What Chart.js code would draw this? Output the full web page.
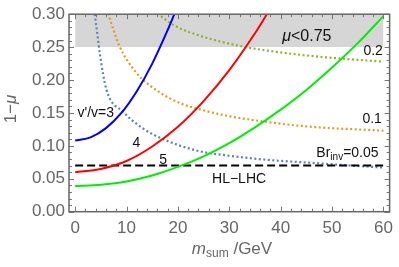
<!DOCTYPE html>
<html>
<head>
<meta charset="utf-8">
<script src="https://cdn.jsdelivr.net/npm/chart.js@4/dist/chart.umd.min.js"></script>
<style>
    html, body { margin: 0; padding: 0; background: #fff; }
    #wrap { width: 399px; height: 267px; position: relative; }
</style>
</head>
<body>
<div id="wrap"><canvas id="chart"></canvas></div>
<script>
// curves: x = m_sum (GeV), y = 1 - mu
const ratio3X = [0, 3, 6, 9, 12, 15, 18, 19.3];
const ratio3Y = [0.108, 0.113, 0.127, 0.150, 0.183, 0.225, 0.276, 0.300];

const ratio4X = [0, 5, 10, 15, 20, 25, 30, 35, 37.4];
const ratio4Y = [0.060, 0.065, 0.077, 0.099, 0.129, 0.168, 0.215, 0.271, 0.301];

const ratio5X = [0, 5, 10, 15, 20, 25, 30, 35, 40, 45, 50, 55, 60];
const ratio5Y = [0.039, 0.041, 0.046, 0.055, 0.068, 0.084, 0.104, 0.128, 0.155, 0.185, 0.219, 0.256, 0.297];

const br005X = [3.8, 4.4, 4.8, 6.1, 9.3, 13.1, 16.9, 23.6, 30, 37, 45, 52, 60];
const br005Y = [0.300, 0.265, 0.240, 0.185, 0.152, 0.127, 0.111, 0.093, 0.085, 0.079, 0.0747, 0.071, 0.067];

const br01X = [6.4, 8.6, 11.8, 16.3, 20.7, 24, 30, 36.7, 43, 49.5, 55, 60];
const br01Y = [0.301, 0.252, 0.212, 0.182, 0.164, 0.156, 0.145, 0.137, 0.131, 0.127, 0.125, 0.123];

const br02X = [16, 19.5, 23.6, 28, 33.2, 38, 43.1, 48, 52.7, 60];
const br02Y = [0.301, 0.282, 0.269, 0.259, 0.250, 0.244, 0.239, 0.235, 0.232, 0.228];

const hlLhcX = [0, 60];
const hlLhcY = [0.07, 0.07];

const bandX = [0, 60];
const bandY = [0.25, 0.25];

const xTicks = [0, 10, 20, 30, 40, 50, 60];
const yTicks = [0, 0.05, 0.10, 0.15, 0.20, 0.25, 0.30];

// text labels in data coordinates
const labels = [
    { text: "v'/v=3", x: 4.0, y: 0.149 },
    { text: '4', x: 11.9, y: 0.104 },
    { text: '5', x: 17.1, y: 0.079 },
    { text: 'HL\u2212LHC', x: 31.9, y: 0.049 },
    { text: '0.2', x: 58.0, y: 0.244 },
    { text: '0.1', x: 57.8, y: 0.140 },
];

const pts = (xs, ys) => xs.map((x, i) => ({ x, y: ys[i] }));

const line = (xs, ys, color, dash, width) => ({
    data: pts(xs, ys),
    borderColor: color,
    borderWidth: width,
    borderDash: dash,
    pointRadius: 0,
    showLine: true,
    fill: false,
    cubicInterpolationMode: 'monotone',
});

const FONT = '"Liberation Sans", Arial, sans-serif';

const framePlugin = {
    id: 'frame',
    afterDatasetsDraw(chart) {
        const { ctx, chartArea: a, scales: { x, y } } = chart;
        ctx.save();

        // inward ticks on all four sides
        ctx.strokeStyle = '#777';
        ctx.lineWidth = 1;
        ctx.beginPath();
        for (let v = 0; v <= 60; v += 2) {
            const px = Math.round(x.getPixelForValue(v)) + 0.5;
            const len = v % 10 === 0 ? 5 : 3;
            ctx.moveTo(px, a.bottom); ctx.lineTo(px, a.bottom - len);
            ctx.moveTo(px, a.top); ctx.lineTo(px, a.top + len);
        }
        for (let i = 0; i <= 30; i++) {
            const py = Math.round(y.getPixelForValue(i / 100)) + 0.5;
            const len = i % 5 === 0 ? 5 : 3;
            ctx.moveTo(a.left, py); ctx.lineTo(a.left + len, py);
            ctx.moveTo(a.right, py); ctx.lineTo(a.right - len, py);
        }
        ctx.stroke();

        // frame
        ctx.strokeStyle = '#666';
        ctx.lineWidth = 1.5;
        ctx.strokeRect(a.left, a.top, a.right - a.left, a.bottom - a.top);

        // labels inside the plot
        ctx.fillStyle = '#111';
        ctx.font = '14px ' + FONT;
        ctx.textAlign = 'center';
        ctx.textBaseline = 'middle';
        labels.forEach(l => ctx.fillText(l.text, x.getPixelForValue(l.x), y.getPixelForValue(l.y)));

        // mu<0.75 with italic mu
        let px = x.getPixelForValue(45.1);
        let py = y.getPixelForValue(0.266);
        ctx.textAlign = 'left';
        ctx.font = 'italic 16px ' + FONT;
        const muW = ctx.measureText('\u03bc').width;
        ctx.font = '16px ' + FONT;
        const restW = ctx.measureText('<0.75').width;
        let sx = px - (muW + restW) / 2;
        ctx.font = 'italic 16px ' + FONT;
        ctx.fillText('\u03bc', sx, py);
        ctx.font = '16px ' + FONT;
        ctx.fillText('<0.75', sx + muW, py);

        // Br_inv=0.05
        px = x.getPixelForValue(53);
        py = y.getPixelForValue(0.089);
        ctx.font = '14px ' + FONT;
        const brW = ctx.measureText('Br').width;
        const eqW = ctx.measureText('=0.05').width;
        ctx.font = '10px ' + FONT;
        const invW = ctx.measureText('inv').width;
        sx = px - (brW + invW + eqW) / 2;
        ctx.font = '14px ' + FONT;
        ctx.fillText('Br', sx, py);
        ctx.font = '10px ' + FONT;
        ctx.fillText('inv', sx + brW, py + 4);
        ctx.font = '14px ' + FONT;
        ctx.fillText('=0.05', sx + brW + invW, py);

        // axis titles
        ctx.fillStyle = '#666';
        ctx.save();
        ctx.translate(11, (a.top + a.bottom) / 2 - 4);
        ctx.rotate(-Math.PI / 2);
        ctx.font = '17px ' + FONT;
        const oneW = ctx.measureText('1\u2212').width;
        ctx.font = 'italic 17px ' + FONT;
        const mW = ctx.measureText('\u03bc').width;
        ctx.textAlign = 'left';
        ctx.font = '17px ' + FONT;
        ctx.fillText('1\u2212', -(oneW + mW) / 2, 0);
        ctx.font = 'italic 17px ' + FONT;
        ctx.fillText('\u03bc', -(oneW + mW) / 2 + oneW, 0);
        ctx.restore();

        const tx = 232;
        const ty = 249;
        ctx.font = 'italic 17px ' + FONT;
        const mw = ctx.measureText('m').width;
        ctx.font = '12px ' + FONT;
        const sw = ctx.measureText('sum').width;
        ctx.font = '17px ' + FONT;
        const gw = ctx.measureText(' /GeV').width;
        sx = tx - (mw + sw + gw) / 2;
        ctx.textAlign = 'left';
        ctx.font = 'italic 17px ' + FONT;
        ctx.fillText('m', sx, ty);
        ctx.font = '12px ' + FONT;
        ctx.fillText('sum', sx + mw, ty + 5);
        ctx.font = '17px ' + FONT;
        ctx.fillText(' /GeV', sx + mw + sw, ty);

        ctx.restore();
    },
};

new Chart(document.getElementById('chart'), {
    type: 'scatter',
    data: {
        datasets: [
            line(ratio3X, ratio3Y, '#0000ff', [], 2),
            line(ratio4X, ratio4Y, '#ff0000', [], 2),
            line(ratio5X, ratio5Y, '#00ee00', [], 2),
            line(hlLhcX, hlLhcY, '#000000', [8, 4], 2),
            line(br005X, br005Y, '#5e81b5', [2, 2.5], 2.2),
            line(br01X, br01Y, '#e19c24', [2, 2.5], 2.2),
            line(br02X, br02Y, '#8fb032', [2, 2.5], 2.2),
            {
                data: pts(bandX, bandY),
                borderWidth: 0,
                pointRadius: 0,
                showLine: true,
                fill: 'end',
                backgroundColor: '#d6d6d6',
            },
        ],
    },
    options: {
        responsive: true,
        maintainAspectRatio: false,
        animation: false,
        layout: { padding: { top: 10.7, right: 5.5, left: 0, bottom: 0 } },
        plugins: {
            legend: { display: false },
            tooltip: { enabled: false },
        },
        scales: {
            x: {
                type: 'linear',
                min: -1.2,
                max: 61.2,
                afterBuildTicks: s => { s.ticks = xTicks.map(value => ({ value })); },
                afterFit: s => { s.height = 55.3; },
                grid: { display: false, drawTicks: false },
                border: { display: false },
                ticks: {
                    color: '#666',
                    font: { size: 17, family: FONT },
                    padding: 6,
                    maxRotation: 0,
                },
            },
            y: {
                min: 0,
                max: 0.30,
                afterBuildTicks: s => { s.ticks = yTicks.map(value => ({ value })); },
                afterFit: s => { s.width = 69; },
                grid: { display: false, drawTicks: false },
                border: { display: false },
                ticks: {
                    color: '#666',
                    font: { size: 17, family: FONT },
                    padding: 4,
                    callback: v => v.toFixed(2),
                },
            },
        },
    },
    plugins: [framePlugin],
});
</script>
</body>
</html>
